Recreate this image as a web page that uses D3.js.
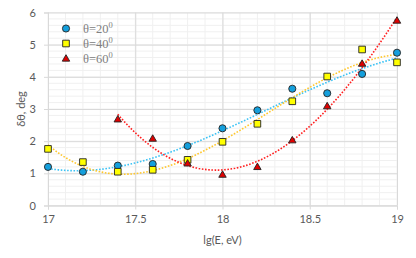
<!DOCTYPE html>
<html>
<head>
<meta charset="utf-8">
<script src="https://cdn.jsdelivr.net/npm/d3@7"></script>
<style>
  html, body { margin: 0; padding: 0; background: #fff; }
  svg text { font-family: Lato, "Open Sans", sans-serif; }
</style>
</head>
<body>
<div id="chart"></div>
<script>
// Dados
const lgE = [17, 17.2, 17.4, 17.6, 17.8, 18, 18.2, 18.4, 18.6, 18.8, 19];
const theta20 = [1.2, 1.05, 1.24, 1.29, 1.85, 2.4, 2.96, 3.63, 3.49, 4.09, 4.75];
const theta40 = [1.76, 1.35, 1.05, 1.11, 1.42, 1.98, 2.54, 3.24, 4.01, 4.85, 4.45];
const lgE60 = [17.4, 17.6, 17.8, 18, 18.2, 18.4, 18.6, 18.8, 19];
const theta60 = [2.68, 2.08, 1.31, 0.96, 1.2, 2.03, 3.09, 4.41, 5.75];
const xTicks = [17, 17.5, 18, 18.5, 19];
const yTicks = [0, 1, 2, 3, 4, 5, 6];

const series = [
  { label: "θ=20", xs: lgE, ys: theta20, shape: "circle", fill: "#149fdc", trend: "#3cc3f5" },
  { label: "θ=40", xs: lgE, ys: theta40, shape: "square", fill: "#ffff00", trend: "#ffc72c" },
  { label: "θ=60", xs: lgE60, ys: theta60, shape: "triangle", fill: "#e00000", trend: "#ff2020" },
];

// Ajuste polinomial (mínimos quadrados) como a linha de tendência
function polyFit(xs, ys, order) {
  const n = order + 1;
  const A = Array.from({ length: n }, () => new Array(n + 1).fill(0));
  xs.forEach((x0, k) => {
    const x = x0 - 18;
    for (let i = 0; i < n; i++) {
      for (let j = 0; j < n; j++) A[i][j] += Math.pow(x, i + j);
      A[i][n] += ys[k] * Math.pow(x, i);
    }
  });
  for (let c = 0; c < n; c++) {
    let p = c;
    for (let r = c + 1; r < n; r++) if (Math.abs(A[r][c]) > Math.abs(A[p][c])) p = r;
    [A[c], A[p]] = [A[p], A[c]];
    for (let r = 0; r < n; r++) {
      if (r === c) continue;
      const f = A[r][c] / A[c][c];
      for (let k = c; k <= n; k++) A[r][k] -= f * A[c][k];
    }
  }
  const coef = A.map((row, i) => row[n] / row[i]);
  return (x0) => coef.reduce((s, c, i) => s + c * Math.pow(x0 - 18, i), 0);
}

const width = 416, height = 258;
const margin = { top: 12.5, right: 19, bottom: 52.5, left: 48 };

const svg = d3.select("#chart").append("svg")
  .attr("width", width).attr("height", height);

const x = d3.scaleLinear().domain([17, 19]).range([margin.left, width - margin.right]);
const y = d3.scaleLinear().domain([0, 6]).range([height - margin.bottom, margin.top]);

// Grade secundária
svg.append("g").selectAll("line")
  .data(d3.range(17, 19.0001, 0.1))
  .enter().append("line")
  .attr("x1", (d) => x(d)).attr("x2", (d) => x(d))
  .attr("y1", y(0)).attr("y2", y(6))
  .attr("stroke", "#f0f0f0").attr("stroke-width", 1);
svg.append("g").selectAll("line")
  .data(d3.range(0, 6.0001, 0.2))
  .enter().append("line")
  .attr("x1", x(17)).attr("x2", x(19))
  .attr("y1", (d) => y(d)).attr("y2", (d) => y(d))
  .attr("stroke", "#f0f0f0").attr("stroke-width", 1);

// Grade principal
svg.append("g")
  .attr("transform", `translate(0,${y(0)})`)
  .call(d3.axisBottom(x).tickValues(xTicks).tickSize(-(y(0) - y(6)) ).tickFormat(""))
  .call((g) => g.select(".domain").remove())
  .call((g) => g.selectAll("line").attr("stroke", "#d9d9d9"));
svg.append("g")
  .attr("transform", `translate(${x(17)},0)`)
  .call(d3.axisLeft(y).tickValues(yTicks).tickSize(-(x(19) - x(17))).tickFormat(""))
  .call((g) => g.select(".domain").remove())
  .call((g) => g.selectAll("line").attr("stroke", "#d9d9d9"));

// Eixos com rótulos
const xAxis = svg.append("g")
  .attr("transform", `translate(0,${y(0)})`)
  .call(d3.axisBottom(x).tickValues(xTicks).tickSize(4).tickPadding(6)
    .tickFormat((d) => String(d)));
xAxis.select(".domain").attr("stroke", "#d9d9d9");
xAxis.selectAll("line").attr("stroke", "#d9d9d9");
xAxis.selectAll("text").attr("fill", "#595959").attr("font-size", "11px")
  .style("font-family", "Lato, 'Open Sans', sans-serif");

const yAxis = svg.append("g")
  .attr("transform", `translate(${x(17)},0)`)
  .call(d3.axisLeft(y).tickValues(yTicks).tickSize(4).tickPadding(8)
    .tickFormat(d3.format("d")));
yAxis.select(".domain").attr("stroke", "#d9d9d9");
yAxis.selectAll("line").attr("stroke", "#d9d9d9");
yAxis.selectAll("text").attr("fill", "#595959").attr("font-size", "11px")
  .style("font-family", "Lato, 'Open Sans', sans-serif");

svg.append("text")
  .attr("x", x(18)).attr("y", 244)
  .attr("text-anchor", "middle").attr("fill", "#595959").attr("font-size", "11px")
  .text("lg(E, eV)");
svg.append("text")
  .attr("transform", `translate(25,${y(3)}) rotate(-90)`)
  .attr("text-anchor", "middle").attr("fill", "#595959").attr("font-size", "11px")
  .text("δθ, deg");

// Linhas de tendência pontilhadas
const line = d3.line().x((d) => x(d[0])).y((d) => y(d[1])).curve(d3.curveLinear);
series.forEach((s) => {
  const f = polyFit(s.xs, s.ys, 3);
  const x0 = d3.min(s.xs), x1 = d3.max(s.xs);
  const pts = d3.range(0, 101).map((i) => {
    const xv = x0 + (x1 - x0) * i / 100;
    return [xv, f(xv)];
  });
  svg.append("path")
    .attr("d", line(pts))
    .attr("fill", "none")
    .attr("stroke", s.trend)
    .attr("stroke-width", 1.6)
    .attr("stroke-dasharray", "1.6,1.6");
});

// Marcadores
const symbols = { circle: d3.symbolCircle, square: d3.symbolSquare, triangle: d3.symbolTriangle };
const symSize = { circle: 40, square: 44, triangle: 24 };
function drawMarker(g, shape, fill, cx, cy) {
  g.append("path")
    .attr("d", d3.symbol().type(symbols[shape]).size(symSize[shape])())
    .attr("transform", `translate(${cx},${cy + (shape === "triangle" ? 0.5 : 0)})`)
    .attr("fill", fill)
    .attr("stroke", "#222")
    .attr("stroke-width", 0.9);
}
series.forEach((s) => {
  const g = svg.append("g");
  s.xs.forEach((xv, i) => drawMarker(g, s.shape, s.fill, x(xv), y(s.ys[i])));
});

// Legenda
const legend = svg.append("g");
series.forEach((s, i) => {
  const ly = 28.5 + i * 15;
  drawMarker(legend, s.shape, s.fill, 66, ly);
  const t = legend.append("text")
    .attr("x", 83).attr("y", ly + 4.5)
    .attr("fill", "#808080").attr("font-size", "12.5px")
    .style("font-family", "'Liberation Serif', 'DejaVu Serif', serif");
  t.append("tspan").text(s.label);
  t.append("tspan").attr("dy", -5).attr("font-size", "8.5px").text("0");
});
</script>
</body>
</html>
